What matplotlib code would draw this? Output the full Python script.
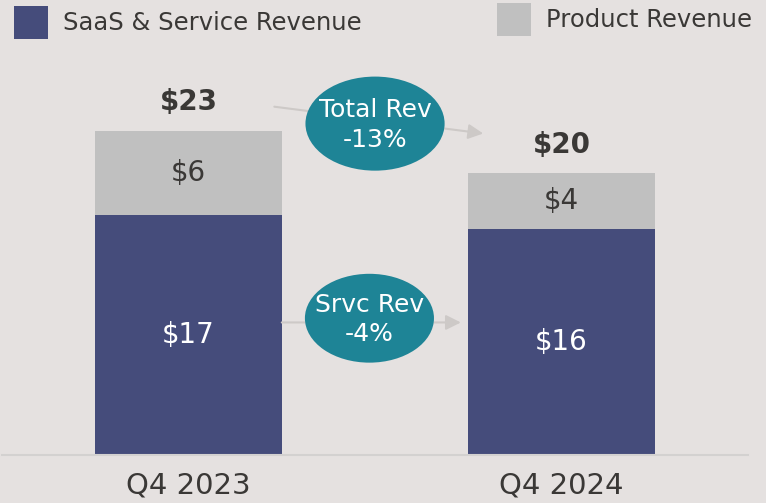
import matplotlib.pyplot as plt
from matplotlib.patches import Ellipse

# data
quarters = ["Q4 2023", "Q4 2024"]
service_rev = [17, 16]
product_rev = [6, 4]
change_labels = ["Total Rev\n-13%", "Srvc Rev\n-4%"]

BG = "#e5e1e0"
BLUE = "#454c7b"
GRAY = "#c0c0c0"
TEAL = "#1e8496"
ARROW = "#cdc9c7"
TXT = "#3a3836"

plt.rcParams['font.family'] = ['DejaVu Sans']

fig = plt.figure(figsize=(7.66, 5.03), dpi=100, facecolor=BG)
ax = fig.add_axes([0.0026, 0.0954, 0.974, 0.785])
ax.set_facecolor(BG)

x = list(range(len(quarters)))
totals = [s + p for s, p in zip(service_rev, product_rev)]
w = 0.5

ax.bar(x, service_rev, width=w, color=BLUE, label="SaaS & Service Revenue")
ax.bar(x, product_rev, width=w, bottom=service_rev, color=GRAY, label="Product Revenue")

for i in x:
    ax.text(i, service_rev[i] / 2, f"${service_rev[i]}", ha='center', va='center',
            color='white', fontsize=20)
    ax.text(i, service_rev[i] + product_rev[i] / 2, f"${product_rev[i]}", ha='center',
            va='center', color=TXT, fontsize=20)
    ax.text(i, totals[i] + 2.0, f"${totals[i]}", ha='center', va='center',
            color=TXT, fontsize=20, fontweight='bold')

# arrows between bars
ax.annotate("", xy=(0.79, totals[1] + 2.8), xytext=(0.23, totals[0] + 1.7),
            arrowprops=dict(arrowstyle='-|>,head_length=0.9,head_width=0.45',
                            color=ARROW, lw=1.5, shrinkA=0, shrinkB=0), zorder=2)
ax.annotate("", xy=(1 - w / 2 - 0.02, 9.4), xytext=(w / 2, 9.4),
            arrowprops=dict(arrowstyle='-|>,head_length=0.9,head_width=0.45',
                            color=ARROW, lw=1.5, shrinkA=0, shrinkB=0), zorder=2)

# change bubbles
ax.add_patch(Ellipse((0.5, 23.5), 0.373, 6.67, facecolor=TEAL, edgecolor='none', zorder=3))
ax.text(0.5, 23.4, change_labels[0], ha='center', va='center', color='white',
        fontsize=18, linespacing=1.3, zorder=4)
ax.add_patch(Ellipse((0.485, 9.7), 0.346, 6.3, facecolor=TEAL, edgecolor='none', zorder=3))
ax.text(0.485, 9.6, change_labels[1], ha='center', va='center', color='white',
        fontsize=18, linespacing=1.3, zorder=4)

ax.set_xlim(-0.5, 1.5)
ax.set_ylim(0, 28)
for s in ['top', 'right', 'left']:
    ax.spines[s].set_visible(False)
ax.spines['bottom'].set_color("#d3d1d0")
ax.spines['bottom'].set_linewidth(1.5)
ax.set_yticks([])
ax.set_xticks(x)
ax.set_xticklabels(quarters, fontsize=21, color=TXT)
ax.tick_params(axis='x', length=0, pad=12)

# legend drawn as two separate entries like the original
h, l = ax.get_legend_handles_labels()
leg_kw = dict(loc='upper left', frameon=False, fontsize=17.5, handlelength=1.4,
              handleheight=1.7, handletextpad=0.6, labelcolor=TXT,
              borderpad=0, borderaxespad=0)
fig.legend([h[0]], [l[0]], bbox_to_anchor=(0.0183, 0.988), **leg_kw)
fig.legend([h[1]], [l[1]], bbox_to_anchor=(0.649, 0.994), **leg_kw)

fig.savefig("out.png", dpi=100, facecolor=BG)
